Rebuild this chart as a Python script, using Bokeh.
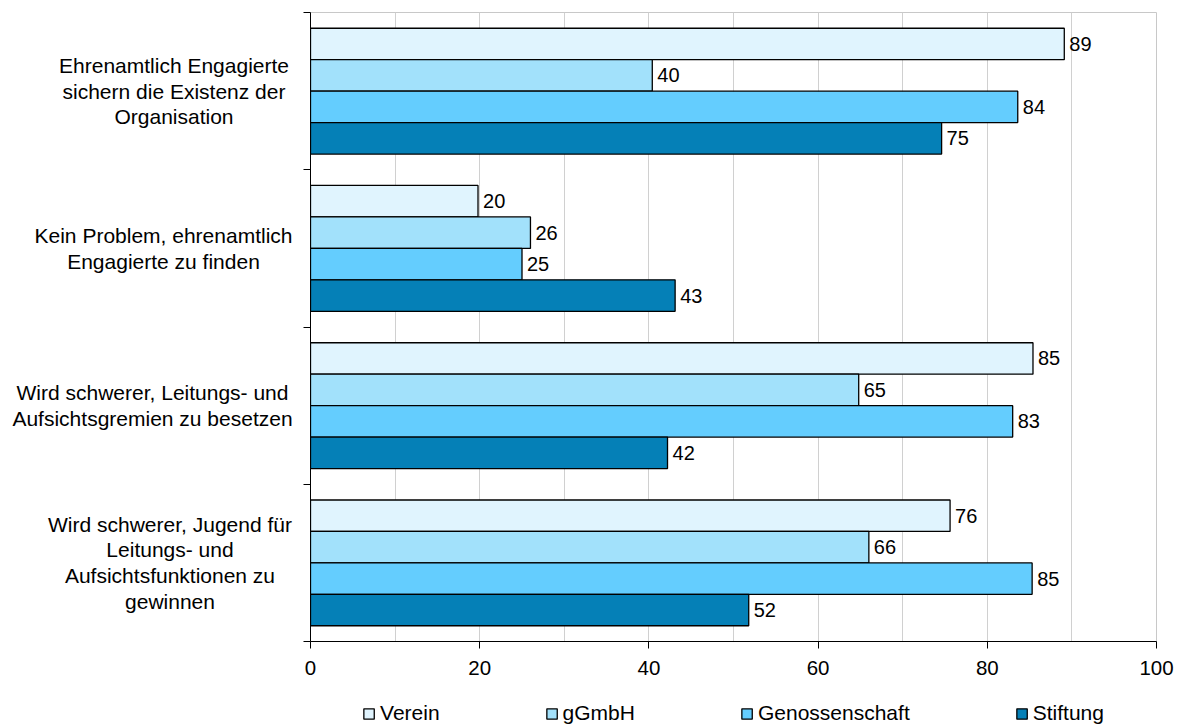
from bokeh.plotting import figure
from bokeh.layouts import row, column
from bokeh.models import Range1d, FixedTicker, Legend, LegendItem, ColumnDataSource
from bokeh.embed import file_html
from bokeh.resources import INLINE
from bokeh.core.properties import value

categories = [
    "Ehrenamtlich Engagierte\nsichern die Existenz der\nOrganisation",
    "Kein Problem, ehrenamtlich\nEngagierte zu finden",
    "Wird schwerer, Leitungs- und\nAufsichtsgremien zu besetzen",
    "Wird schwerer, Jugend für\nLeitungs- und\nAufsichtsfunktionen zu\ngewinnen",
]
series = ["Verein", "gGmbH", "Genossenschaft", "Stiftung"]
verein = [89.1, 19.8, 85.4, 75.6]
ggmbh = [40.4, 26.0, 64.8, 66.0]
genossenschaft = [83.6, 25.0, 83.0, 85.3]
stiftung = [74.6, 43.1, 42.2, 51.8]
x_ticks = [0, 20, 40, 60, 80, 100]
grid_ticks = [0, 10, 20, 30, 40, 50, 60, 70, 80, 90, 100]

# layout / style (not data)
colors = ["#E0F4FE", "#A2E1FB", "#64CDFE", "#0580B7"]
label_centers_px = [173.5, 163, 152, 169.5]
FONT = "Liberation Sans"
TOTAL_W = 1179
TOTAL_H = 726
LEFT_W = 300
MAIN_W = TOTAL_W - LEFT_W
BORDER_TOP = 12
BORDER_BOTTOM = 44
MAIN_H = 641 + BORDER_BOTTOM
LEG_H = TOTAL_H - MAIN_H

values_by_series = [verein, ggmbh, genossenschaft, stiftung]
n_cat = len(categories)
n_ser = len(series)
bar_h = 0.8 / n_ser

# ---- main chart ----
p = figure(width=MAIN_W, height=MAIN_H, output_backend="svg", toolbar_location=None,
           x_range=Range1d(0, 100), y_range=Range1d(n_cat, 0),
           min_border_left=10, min_border_right=23,
           min_border_top=BORDER_TOP, min_border_bottom=BORDER_BOTTOM,
           background_fill_color="white", border_fill_color="white")
p.outline_line_color = "#c8c8c8"
p.outline_line_width = 1

p.ygrid.grid_line_color = None
p.xgrid.ticker = FixedTicker(ticks=grid_ticks)
p.xgrid.grid_line_color = "#d0d0d0"
p.xgrid.grid_line_width = 1

p.xaxis.ticker = FixedTicker(ticks=x_ticks)
p.xaxis.axis_line_color = "black"
p.xaxis.major_tick_line_color = "black"
p.xaxis.major_tick_out = 7
p.xaxis.major_tick_in = 0
p.xaxis.minor_tick_line_color = None
p.xaxis.major_label_text_font = FONT
p.xaxis.major_label_text_font_size = "20.5px"
p.xaxis.major_label_text_color = "black"
p.xaxis.major_label_standoff = 12

p.yaxis.ticker = FixedTicker(ticks=list(range(n_cat + 1)))
p.yaxis.major_label_overrides = {i: "" for i in range(n_cat + 1)}
p.yaxis.axis_line_color = "black"
p.yaxis.major_tick_line_color = "black"
p.yaxis.major_tick_out = 7
p.yaxis.major_tick_in = 0
p.yaxis.minor_tick_line_color = None
p.yaxis.major_label_standoff = 0
p.yaxis.major_label_text_font_size = "1px"

for j, (name, vals) in enumerate(zip(series, values_by_series)):
    ys = [i + bar_h * (j + 0.5) + 0.1 for i in range(n_cat)]
    src = ColumnDataSource(dict(y=ys, right=vals, lab=[f"{v:.0f}" for v in vals]))
    p.hbar(y="y", left=0, right="right", height=bar_h, source=src,
           fill_color=colors[j], line_color="black", line_width=1.3)
    p.text(x="right", y="y", text="lab", source=src, x_offset=5,
           text_font=value(FONT), text_font_size="20px", text_color="black",
           text_baseline="middle", text_align="left")

# ---- category labels (left) ----
pl = figure(width=LEFT_W, height=MAIN_H, output_backend="svg", toolbar_location=None,
            x_range=Range1d(0, LEFT_W), y_range=p.y_range,
            x_axis_type=None, y_axis_type=None,
            min_border_left=0, min_border_right=0,
            min_border_top=BORDER_TOP, min_border_bottom=BORDER_BOTTOM,
            background_fill_color="white", border_fill_color="white")
pl.outline_line_color = None
pl.xgrid.grid_line_color = None
pl.ygrid.grid_line_color = None
pl.text(x=label_centers_px, y=[i + 0.5 for i in range(n_cat)], text=categories,
        text_font=value(FONT), text_font_size="21px", text_color="black",
        text_align="center", text_baseline="middle", text_line_height=1.12)

# ---- legend strip ----
pg = figure(width=MAIN_W, height=LEG_H, output_backend="svg", toolbar_location=None,
            x_range=Range1d(0, 1), y_range=Range1d(0, 1),
            x_axis_type=None, y_axis_type=None,
            min_border_left=10, min_border_right=23, min_border_top=15, min_border_bottom=0,
            background_fill_color="white", border_fill_color="white")
pg.outline_line_color = None
pg.xgrid.grid_line_color = None
pg.ygrid.grid_line_color = None
items = []
for j, name in enumerate(series):
    # legend swatch renderer: a zero-length bar hidden behind the opaque legend box
    r = pg.hbar(y=[0.5], left=0.5, right=[0.5], height=0.05,
                fill_color=colors[j], line_color="black", line_width=1.3)
    items.append(LegendItem(label=name, renderers=[r]))
legend = Legend(items=items, orientation="horizontal", location="center",
                label_text_font=FONT, label_text_font_size="21px",
                label_text_color="black", glyph_width=13, glyph_height=13,
                label_standoff=5, spacing=105, padding=0, margin=0,
                border_line_alpha=0, background_fill_color="white",
                background_fill_alpha=1)
pg.add_layout(legend, "center")

layout = row(pl, column(p, pg))
open("out.html", "w").write(file_html(layout, INLINE))
